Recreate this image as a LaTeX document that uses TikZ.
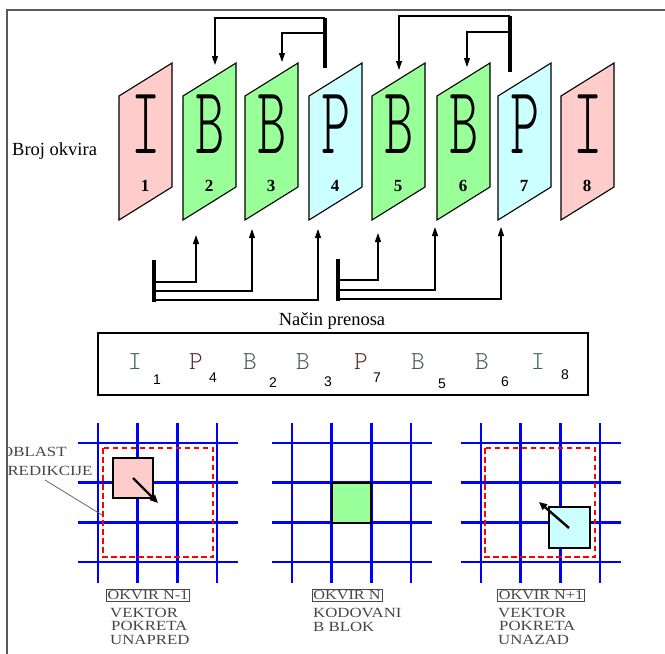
\documentclass[tikz,border=0pt]{standalone}
\usepackage{fontspec}
\usepackage{graphicx}
\setmainfont{Liberation Serif}
\newfontfamily\lmlight{lmmonolt10-regular.otf}
\newfontfamily\subfont{Liberation Sans}
\newfontfamily\capfont[FakeStretch=1.2]{Liberation Serif}
\usetikzlibrary{arrows.meta}
\definecolor{pinkf}{RGB}{255,204,204}
\definecolor{greenf}{RGB}{153,255,153}
\definecolor{cyanf}{RGB}{204,255,255}
\definecolor{icol}{RGB}{60,100,100}
\definecolor{pcol}{RGB}{90,45,45}
\definecolor{bcol}{RGB}{80,90,85}
\definecolor{lblgray}{RGB}{70,70,70}
\tikzset{
  frm/.style={draw=black, line width=1.1pt, line join=miter},
  bigl/.style={inner sep=0pt, font=\fontsize{96}{96}\lmlight},
  numl/.style={inner sep=0pt, font=\fontsize{17}{17}\selectfont\bfseries},
  arr/.style={line width=1.1pt, -{Triangle[length=9pt,width=6pt]}},
  barline/.style={line width=3.2pt},
  gridline/.style={blue, line width=2.6pt},
  dashedrect/.style={red, line width=1.8pt, dash pattern=on 5.5pt off 3.5pt},
  blk/.style={draw=black, line width=1.8pt},
  mvarrow/.style={line width=2.4pt, -{Triangle[length=8pt,width=7pt]}},
  boxletter/.style={inner sep=0pt, font=\fontsize{26}{26}\lmlight},
  subl/.style={inner sep=0pt, font=\fontsize{14}{14}\subfont},
  capl/.style={inner sep=0pt, text=lblgray, font=\fontsize{14}{14}\capfont, anchor=west},
  okvir/.style={draw=lblgray, line width=0.8pt, inner sep=1.5pt, text=lblgray, font=\fontsize{13.5}{13.5}\capfont},
  titlel/.style={inner sep=0pt, font=\fontsize{18.5}{18.5}\selectfont}
}
\newcommand\okframe[5]{%
  \filldraw[frm, fill=#3] (#2,220) -- (#2,96) -- ({#2+53},63) -- ({#2+53},187) -- cycle;
  \node[bigl] (#1L) at ({#2+27},124) {\scalebox{0.58}[1]{#4}};
  \node[numl] (#1N) at ({#2+26},186) {#5};
}
\newcommand\okgrid[1]{%
  \foreach \k in {0,1,2,3} {
    \draw[gridline] ({#1+\k*39.7},423) -- ({#1+\k*39.7},583);
    \draw[gridline] ({#1-20},{443+\k*39.7}) -- ({#1+140},{443+\k*39.7});
  }
}
\begin{document}
\begin{tikzpicture}[x=1pt,y=-1pt]
\useasboundingbox (0,0) rectangle (665,654);
% outer frame lines
\draw[line width=1.6pt, black!65] (665,10) -- (7,10) -- (7,654);

% label
\node[titlel, anchor=west] (broj) at (12,151) {Broj okvira};

% frames
\okframe{f1}{119}{pinkf}{I}{1}
\okframe{f2}{183}{greenf}{B}{2}
\okframe{f3}{245}{greenf}{B}{3}
\okframe{f4}{309}{cyanf}{P}{4}
\okframe{f5}{372}{greenf}{B}{5}
\okframe{f6}{437}{greenf}{B}{6}
\okframe{f7}{498}{cyanf}{P}{7}
\okframe{f8}{561}{pinkf}{I}{8}

% top reference arrows
\coordinate (ba1) at (325,18);
\coordinate (ba2) at (325,33);
\coordinate (ba3) at (325,68);
\coordinate (t2) at (215,65);
\coordinate (t3) at (282,62);
\draw[barline] (ba1) -- (ba3);
\draw[arr] (ba1) -| (t2);
\draw[arr] (ba2) -| (t3);

\coordinate (bb1) at (510,16);
\coordinate (bb2) at (510,32);
\coordinate (bb3) at (510,72);
\coordinate (t5) at (399,70);
\coordinate (t6) at (467,67);
\draw[barline] (bb1) -- (bb3);
\draw[arr] (bb1) -| (t5);
\draw[arr] (bb2) -| (t6);

% bottom transmission arrows
\coordinate (bc0) at (154,260);
\coordinate (bc1) at (154,282);
\coordinate (bc2) at (154,291);
\coordinate (bc3) at (154,300);
\coordinate (bc4) at (154,301.5);
\coordinate (u2) at (196,235);
\coordinate (u3) at (252,229);
\coordinate (u4) at (318,229);
\draw[arr] (bc1) -| (u2);
\draw[arr] (bc2) -| (u3);
\draw[arr] (bc3) -| (u4);
\draw[barline] (bc0) -- (bc4);

\coordinate (bd0) at (338,259);
\coordinate (bd1) at (338,280);
\coordinate (bd2) at (338,290);
\coordinate (bd3) at (338,299);
\coordinate (bd4) at (338,300.5);
\coordinate (u5) at (378,233);
\coordinate (u6) at (435,227);
\coordinate (u7) at (501,227);
\draw[arr] (bd1) -| (u5);
\draw[arr] (bd2) -| (u6);
\draw[arr] (bd3) -| (u7);
\draw[barline] (bd0) -- (bd4);

% transmission order
\node[titlel] (nacin) at (332,321) {Način prenosa};
\draw[line width=2.6pt] (98,333) rectangle (588,395);
\node[boxletter, text=icol] (s1) at (135,362) {I};
\node[subl] (s1n) at (157,380) {1};
\node[boxletter, text=pcol] (s4) at (196,362) {P};
\node[subl] (s4n) at (213,378) {4};
\node[boxletter, text=bcol] (s2) at (250,362) {B};
\node[subl] (s2n) at (273,383) {2};
\node[boxletter, text=bcol] (s3) at (303,362) {B};
\node[subl] (s3n) at (328,382) {3};
\node[boxletter, text=pcol] (s7) at (361,362) {P};
\node[subl] (s7n) at (377,378) {7};
\node[boxletter, text=bcol] (s5) at (418,362) {B};
\node[subl] (s5n) at (442,384) {5};
\node[boxletter, text=bcol] (s6) at (482,362) {B};
\node[subl] (s6n) at (505,382) {6};
\node[boxletter, text=icol] (s8) at (538,362) {I};
\node[subl] (s8n) at (565,375) {8};

% grid 1 (previous frame)
\okgrid{98}
\draw[dashedrect] (103,448) rectangle (213,557);
\filldraw[blk, fill=pinkf] (113,458) rectangle (153,498);
\coordinate (m1a) at (133,478);
\coordinate (m1b) at (158,503);
\draw[mvarrow] (m1a) -- (m1b);
\begin{scope}
  \clip (8.5,430) rectangle (120,500);
  \node[capl] (obl) at (1,452) {OBLAST};
  \node[capl] (pred) at (-2,471) {PREDIKCIJE};
\end{scope}
\coordinate (ld1) at (45,480);
\coordinate (ld2) at (102,515);
\draw[black!60, line width=0.8pt] (ld1) -- (ld2);
\node[okvir] (ok1) at (148,595) {OKVIR N-1};
\node[capl] (v1) at (110,613) {VEKTOR};
\node[capl] (p1) at (111,626) {POKRETA};
\node[capl] (u1) at (110,640) {UNAPRED};

% grid 2 (current frame)
\okgrid{292}
\filldraw[blk, fill=greenf] (332,483) rectangle (371,523);
\node[okvir] (ok2) at (347,595) {OKVIR N};
\node[capl] (k2) at (313,613) {KODOVANI};
\node[capl] (bb) at (313,627) {B BLOK};

% grid 3 (next frame)
\okgrid{481}
\draw[dashedrect] (485,448) rectangle (595,557);
\filldraw[blk, fill=cyanf] (549,507) rectangle (590,548);
\coordinate (m3a) at (569,528);
\coordinate (m3b) at (539,502);
\draw[mvarrow] (m3a) -- (m3b);
\node[okvir] (ok3) at (541,595) {OKVIR N+1};
\node[capl] (v3) at (498,613) {VEKTOR};
\node[capl] (p3) at (499,626) {POKRETA};
\node[capl] (u3t) at (498,640) {UNAZAD};
\end{tikzpicture}
\end{document}
